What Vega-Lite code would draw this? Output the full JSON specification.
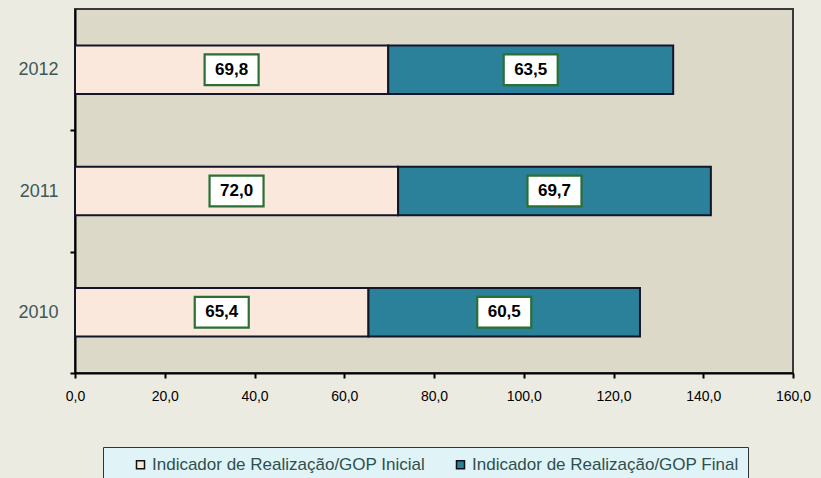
{
  "$schema": "https://vega.github.io/schema/vega-lite/v6.json",
  "width": 718,
  "height": 364,
  "autosize": {"type": "none"},
  "padding": {"left": 75, "top": 9, "right": 28, "bottom": 105},
  "background": "#ecebe1",
  "config": {
    "view": {"fill": "#ddd9c8", "stroke": "#3a3a3a", "strokeWidth": 2},
    "font": "Liberation Sans",
    "locale": {"number": {"decimal": ",", "thousands": ".", "grouping": [3], "currency": ["", " €"]}},
    "axisX": {
      "grid": false,
      "domainColor": "#000",
      "domainWidth": 2,
      "tickColor": "#000",
      "tickWidth": 2,
      "tickSize": 5,
      "labelFontSize": 14,
      "labelColor": "#000",
      "labelPadding": 11,
      "labelFlush": false
    }
  },
  "data": {
    "values": [
      {"year": "2012", "serie": "Indicador de Realização/GOP Inicial", "ord": 1, "value": 69.8},
      {"year": "2012", "serie": "Indicador de Realização/GOP Final", "ord": 2, "value": 63.5},
      {"year": "2011", "serie": "Indicador de Realização/GOP Inicial", "ord": 1, "value": 72.0},
      {"year": "2011", "serie": "Indicador de Realização/GOP Final", "ord": 2, "value": 69.7},
      {"year": "2010", "serie": "Indicador de Realização/GOP Inicial", "ord": 1, "value": 65.4},
      {"year": "2010", "serie": "Indicador de Realização/GOP Final", "ord": 2, "value": 60.5}
    ]
  },
  "transform": [
    {"stack": "value", "groupby": ["year"], "sort": [{"field": "ord", "order": "ascending"}], "as": ["v0", "v1"]}
  ],
  "encoding": {
    "y": {
      "field": "year",
      "type": "nominal",
      "sort": ["2012", "2011", "2010"],
      "scale": {"paddingInner": 0.6, "paddingOuter": 0.3},
      "axis": {
        "title": null,
        "domainColor": "#000",
        "domainWidth": 2,
        "tickColor": "#000",
        "tickWidth": 2,
        "tickSize": 5,
        "tickOffset": 60.7,
        "labelOffset": -60.7,
        "labelFontSize": 18,
        "labelColor": "#3c5858",
        "labelPadding": 12
      }
    }
  },
  "layer": [
    {
      "mark": {"type": "bar", "stroke": "#15152a", "strokeWidth": 2},
      "encoding": {
        "x": {
          "field": "v0",
          "type": "quantitative",
          "scale": {"domain": [0, 160], "nice": false},
          "axis": {
            "title": null,
            "values": [0, 20, 40, 60, 80, 100, 120, 140, 160],
            "format": ".1f",
            "labelFontSize": 14,
            "labelPadding": 11
          }
        },
        "x2": {"field": "v1"},
        "color": {
          "field": "serie",
          "type": "nominal",
          "sort": ["Indicador de Realização/GOP Inicial", "Indicador de Realização/GOP Final"],
          "scale": {"range": ["#fbe8dc", "#2a8199"]},
          "legend": {
            "title": null,
            "orient": "none",
            "direction": "horizontal",
            "legendX": 28,
            "legendY": 438,
            "fillColor": "#e0f3f6",
            "strokeColor": "#333",
            "padding": 9,
            "symbolType": "square",
            "symbolSize": 64,
            "symbolStrokeColor": "#111",
            "symbolStrokeWidth": 1.5,
            "symbolOffset": 20,
            "labelFontSize": 17,
            "labelColor": "#2f4f4f",
            "labelOffset": 3,
            "columnPadding": 6,
            "labelLimit": 400
          }
        }
      }
    },
    {
      "transform": [{"fold": ["v0", "v1"], "as": ["edge", "pos"]}],
      "mark": {"type": "point", "shape": "M-1,-0.57H1V0.57H-1Z", "size": 2916, "filled": true, "fill": "#ffffff", "stroke": "#2a6f33", "strokeWidth": 2.2, "opacity": 1},
      "encoding": {
        "x": {"field": "pos", "aggregate": "mean", "type": "quantitative", "title": null},
        "detail": {"field": "serie"}
      }
    },
    {
      "transform": [{"fold": ["v0", "v1"], "as": ["edge", "pos"]}],
      "mark": {"type": "text", "fontSize": 17, "fontWeight": "bold", "color": "#000"},
      "encoding": {
        "x": {"field": "pos", "aggregate": "mean", "type": "quantitative", "title": null},
        "detail": {"field": "serie"},
        "text": {"field": "value", "type": "quantitative", "format": ".1f"}
      }
    }
  ]
}
